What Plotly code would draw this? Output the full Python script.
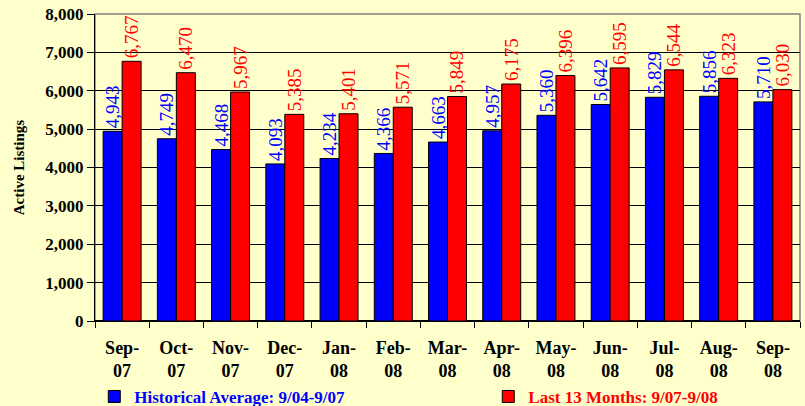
import plotly.graph_objects as go

categories = ["Sep-<br>07", "Oct-<br>07", "Nov-<br>07", "Dec-<br>07", "Jan-<br>08", "Feb-<br>08",
              "Mar-<br>08", "Apr-<br>08", "May-<br>08", "Jun-<br>08", "Jul-<br>08", "Aug-<br>08", "Sep-<br>08"]
historical = [4943, 4749, 4468, 4093, 4234, 4366, 4663, 4957, 5360, 5642, 5829, 5856, 5710]
last13 = [6767, 6470, 5967, 5385, 5401, 5571, 5849, 6175, 6396, 6595, 6544, 6323, 6030]
y_ticks = [0, 1000, 2000, 3000, 4000, 5000, 6000, 7000, 8000]

BLUE = "#0000FF"
RED = "#FF0000"
BG = "#FFFFCC"
FONT = "Liberation Serif"

fig = go.Figure()
fig.add_trace(go.Bar(
    x=categories, y=historical,
    name="<span style='color:#0000FF'>Historical Average: 9/04-9/07</span>",
    marker=dict(color=BLUE, line=dict(color="black", width=1)),
    texttemplate="%{y:,}", textposition="outside", textangle=-90,
    textfont=dict(family=FONT, size=19, color=BLUE),
    constraintext="none", cliponaxis=False,
))
fig.add_trace(go.Bar(
    x=categories, y=last13,
    name="<span style='color:#FF0000'>Last 13 Months: 9/07-9/08</span>",
    marker=dict(color=RED, line=dict(color="black", width=1)),
    texttemplate="%{y:,}", textposition="outside", textangle=-90,
    textfont=dict(family=FONT, size=19, color=RED),
    constraintext="none", cliponaxis=False,
))

fig.update_layout(
    width=805, height=406,
    margin=dict(l=95, r=5, t=14, b=85, autoexpand=False),
    paper_bgcolor=BG, plot_bgcolor=BG,
    barmode="group", bargap=0.30, bargroupgap=0,
    font=dict(family=FONT, color="black"),
    showlegend=True,
    legend=dict(
        orientation="h", x=-0.001, xanchor="left", y=-0.306, yanchor="bottom",
        font=dict(family=FONT, size=17, weight="bold"),
        entrywidth=349, entrywidthmode="pixels",
        bgcolor="rgba(0,0,0,0)", itemwidth=30,
    ),
    shapes=[dict(type="rect", xref="paper", yref="paper", x0=0, x1=1, y0=0, y1=1,
                 line=dict(color="#808080", width=1.5), layer="below")],
)
fig.update_yaxes(
    range=[0, 8000], tickvals=y_ticks, tickformat=",", automargin=False,
    showgrid=True, gridcolor="black", gridwidth=1,
    showline=True, linecolor="black", linewidth=1,
    ticks="outside", ticklen=7, tickcolor="black",
    tickfont=dict(family=FONT, size=17, weight="bold"),
    title=dict(text="Active Listings", font=dict(family=FONT, size=15, weight="bold"), standoff=17),
    zeroline=True, zerolinecolor="black",
)
fig.update_xaxes(
    type="category", tickson="boundaries", automargin=False,
    showline=True, linecolor="black", linewidth=1,
    ticks="outside", ticklen=6, tickcolor="black",
    tickfont=dict(family=FONT, size=18, weight="bold"),
    ticklabelstandoff=10,
    showgrid=False,
)

fig.write_html("out.html", config={"displayModeBar": False},
               post_script="document.body.style.margin='0';document.body.style.background='#FFFFCC';")
